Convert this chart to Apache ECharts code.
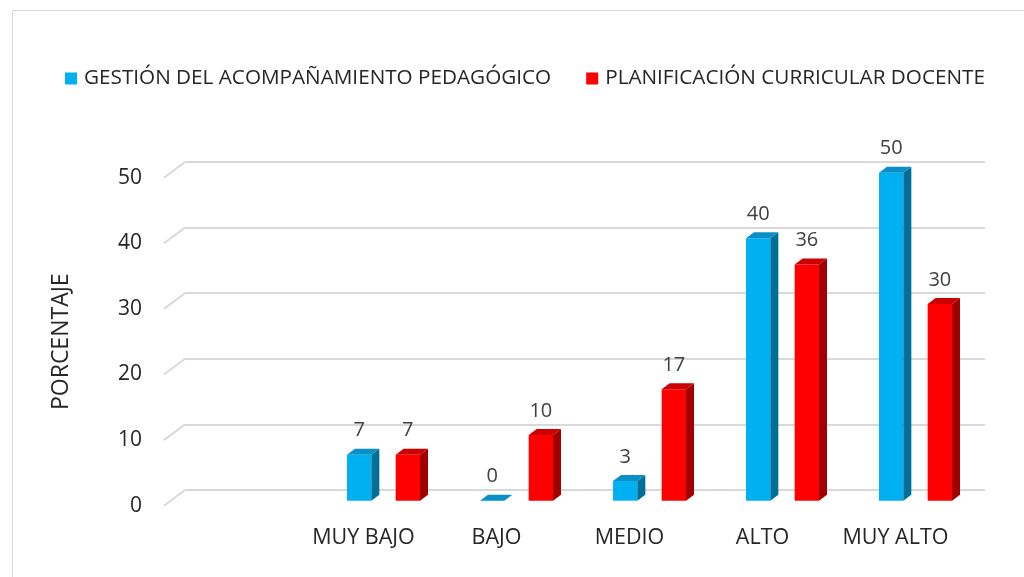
<!DOCTYPE html>
<html>
<head>
<meta charset="utf-8">
<script src="https://cdn.jsdelivr.net/npm/echarts@6/dist/echarts.min.js"></script>
<style>
  html, body { margin: 0; padding: 0; background: #fff; }
  #chart { width: 1024px; height: 577px; }
</style>
</head>
<body>
<div id="chart"></div>
<script>
  // datos
  var categories = ['', 'MUY BAJO', 'BAJO', 'MEDIO', 'ALTO', 'MUY ALTO'];
  var gestion = [null, 7, 0, 3, 40, 50];
  var planificacion = [null, 7, 10, 17, 36, 30];
  var yTicks = [0, 10, 20, 30, 40, 50];
  var seriesNames = ['GESTIÓN DEL ACOMPAÑAMIENTO PEDAGÓGICO', 'PLANIFICACIÓN CURRICULAR DOCENTE'];

  var FONT = '"Open Sans", "Noto Sans", sans-serif';

  // barra "3D" estilo Excel: cara frontal, lateral y superior
  function bar3d(colors, side) {
    return function (params, api) {
      var cat = api.value(0), v = api.value(1);
      var base = api.coord([cat, 0]);
      var top = api.coord([cat, v]);
      var w = api.size([1, 0])[0] * 0.183;
      var cx = base[0] + side * w;
      var x0 = cx - w / 2, x1 = cx + w / 2;
      var dx = 8, dy = 6;
      return {
        type: 'group',
        children: [
          { type: 'rect', shape: { x: x0, y: top[1], width: w, height: base[1] - top[1] }, style: { fill: colors[0] } },
          { type: 'polygon', shape: { points: [[x1, base[1]], [x1 + dx, base[1] - dy], [x1 + dx, top[1] - dy], [x1, top[1]]] }, style: { fill: colors[2] } },
          { type: 'polygon', shape: { points: [[x0, top[1]], [x1, top[1]], [x1 + dx, top[1] - dy], [x0 + dx, top[1] - dy]] }, style: { fill: colors[1] } },
          { type: 'text', x: cx, y: top[1] - 24, style: { text: String(v), fill: '#404040', fontSize: 20, fontFamily: FONT, align: 'center', verticalAlign: 'middle' } }
        ]
      };
    };
  }

  function toData(arr) {
    var out = [];
    arr.forEach(function (v, i) { if (v !== null) out.push([i, v]); });
    return out;
  }

  var chart = echarts.init(document.getElementById('chart'));

  var option = {
    backgroundColor: '#fff',
    animation: false,
    textStyle: { fontFamily: FONT },
    graphic: [{
      type: 'rect', shape: { x: 12.5, y: 10.5, width: 1100, height: 700 },
      style: { fill: 'none', stroke: '#d9d9d9', lineWidth: 1 }, silent: true
    }],
    legend: {
      data: seriesNames,
      left: 65,
      top: 68,
      padding: 0,
      icon: 'rect',
      itemWidth: 12,
      itemHeight: 12,
      itemGap: 35,
      textStyle: { fontSize: 20.7, color: '#262626', fontFamily: FONT, padding: [0, 0, 0, 2] }
    },
    grid: [
      // barras
      { left: 184, right: 42, top: 172.7, bottom: 76.3 },
      // pared del fondo (líneas de división)
      { left: 185, right: 39, top: 161.7, bottom: 87 },
      // plano frontal (etiquetas de ejes)
      { left: 164, right: 62, top: 177.7, bottom: 71.3 }
    ],
    xAxis: [
      { gridIndex: 0, type: 'category', data: categories, show: false },
      { gridIndex: 1, type: 'category', data: categories, axisLine: { show: false }, axisTick: { show: false }, axisLabel: { show: false } },
      {
        gridIndex: 2, type: 'category', data: categories,
        axisLine: { show: false }, axisTick: { show: false },
        axisLabel: { margin: 21, fontSize: 21.5, color: '#262626', fontFamily: FONT, interval: 0 }
      }
    ],
    yAxis: [
      { gridIndex: 0, type: 'value', min: 0, max: 50, interval: 10, show: false },
      {
        gridIndex: 1, type: 'value', min: 0, max: 50, interval: 10,
        axisLine: { show: false }, axisTick: { show: false }, axisLabel: { show: false },
        splitLine: { lineStyle: { color: '#d9d9d9', width: 2 } }
      },
      {
        gridIndex: 2, type: 'value', min: 0, max: 50, interval: 10,
        axisLine: { show: false }, axisTick: { show: false }, splitLine: { show: false },
        axisLabel: { margin: 22, fontSize: 21, color: '#262626', fontFamily: FONT },
        name: 'PORCENTAJE', nameLocation: 'middle', nameGap: 91,
        nameTextStyle: { fontSize: 23, color: '#262626', fontFamily: FONT }
      }
    ],
    series: [
      {
        // líneas inclinadas del suelo/pared lateral
        type: 'custom', xAxisIndex: 2, yAxisIndex: 2, silent: true,
        data: yTicks.map(function (v) { return [0, v]; }),
        renderItem: function (params, api) {
          var p = api.coord([0, api.value(1)]);
          var x = params.coordSys.x;
          return { type: 'line', shape: { x1: x, y1: p[1], x2: x + 21, y2: p[1] - 15.7 }, style: { stroke: '#d9d9d9', lineWidth: 2 } };
        }
      },
      {
        name: seriesNames[0], type: 'custom', xAxisIndex: 0, yAxisIndex: 0,
        itemStyle: { color: '#00b0f0' },
        data: toData(gestion),
        renderItem: bar3d(['#00b0f0', '#0a90c6', '#006f98'], -1)
      },
      {
        name: seriesNames[1], type: 'custom', xAxisIndex: 0, yAxisIndex: 0,
        itemStyle: { color: '#ff0000' },
        data: toData(planificacion),
        renderItem: bar3d(['#ff0000', '#cc0000', '#a00000'], 1)
      }
    ]
  };

  chart.setOption(option);
</script>
</body>
</html>
